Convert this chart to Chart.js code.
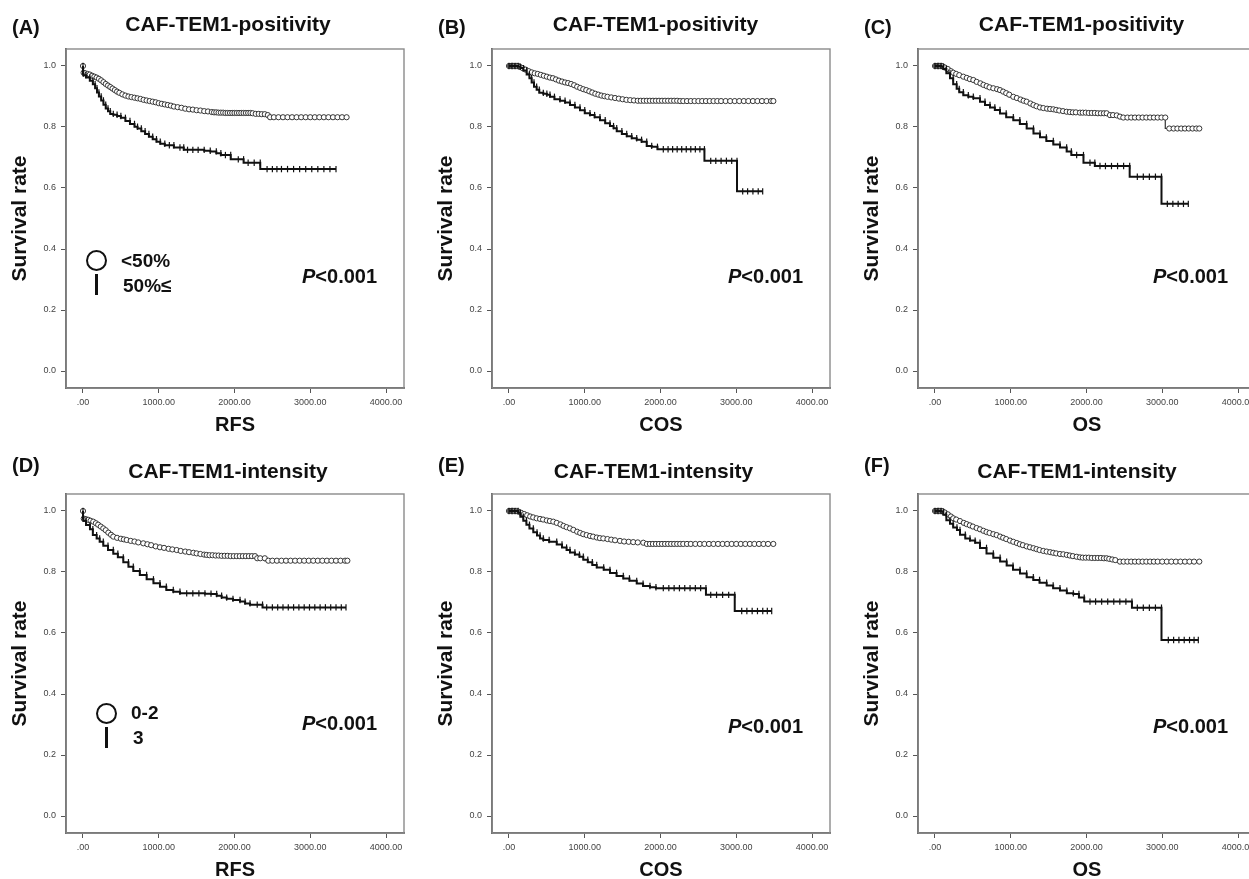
<!DOCTYPE html>
<html><head><meta charset="utf-8">
<script src="https://cdn.jsdelivr.net/npm/chart.js@4.4.1/dist/chart.umd.min.js"></script>
<style>
html,body{margin:0;padding:0;background:#fff;overflow:hidden;}
#wrap{position:relative;width:1249px;height:879px;overflow:hidden;font-family:'Liberation Sans',Arial,sans-serif;color:#111;}
.pan{position:absolute;width:426px;height:440px;}
.t{position:absolute;white-space:nowrap;font-weight:bold;}
.circ{position:absolute;box-sizing:border-box;border:2.5px solid #111;border-radius:50%;}
.bar{position:absolute;background:#111;}
</style></head><body><div id="wrap"></div>
<script>
// ---------------- DATA ----------------
const xTickValues = [0, 1000, 2000, 3000, 4000];
const xTickLabels = ['.00', '1000.00', '2000.00', '3000.00', '4000.00'];
const yTickValues = [0, 0.2, 0.4, 0.6, 0.8, 1.0];
const yTickLabels = ['0.0', '0.2', '0.4', '0.6', '0.8', '1.0'];

const panelLabels = ['(A)', '(B)', '(C)', '(D)', '(E)', '(F)'];
const panelTitles = ['CAF-TEM1-positivity', 'CAF-TEM1-positivity', 'CAF-TEM1-positivity',
                     'CAF-TEM1-intensity', 'CAF-TEM1-intensity', 'CAF-TEM1-intensity'];
const xAxisTitles = ['RFS', 'COS', 'OS', 'RFS', 'COS', 'OS'];
const yAxisTitle = 'Survival rate';
const pValueLabel = ['P', '<0.001'];
const legendPositivity = ['<50%', '50%≤'];
const legendIntensity = ['0-2', '3'];

// Kaplan-Meier curves: [time, survival]; repeated survival = censored case
const aUpper = [[0,1],[8,0.978],[30,0.976],[60,0.974],[90,0.972],[120,0.968],[150,0.965],[180,0.962],[210,0.958],[240,0.953],[270,0.947],[300,0.941],[330,0.936],[360,0.931],[390,0.926],[420,0.921],[450,0.916],[480,0.912],[520,0.907],[560,0.903],[600,0.9],[640,0.898],[680,0.896],[720,0.894],[760,0.892],[800,0.889],[840,0.887],[880,0.885],[920,0.883],[960,0.881],[1000,0.878],[1040,0.876],[1080,0.874],[1120,0.872],[1160,0.87],[1200,0.867],[1250,0.865],[1300,0.863],[1350,0.86],[1400,0.858],[1450,0.857],[1500,0.855],[1550,0.854],[1600,0.852],[1650,0.851],[1700,0.849],[1730,0.848],[1760,0.848],[1790,0.847],[1820,0.847],[1850,0.847],[1880,0.846],[1910,0.846],[1940,0.846],[1970,0.846],[2000,0.846],[2030,0.846],[2060,0.846],[2090,0.846],[2120,0.846],[2150,0.846],[2180,0.846],[2210,0.846],[2240,0.845],[2280,0.843],[2320,0.843],[2360,0.842],[2400,0.842],[2440,0.839],[2470,0.832],[2520,0.832],[2580,0.832],[2640,0.832],[2700,0.832],[2760,0.832],[2820,0.832],[2880,0.832],[2940,0.832],[3000,0.832],[3060,0.832],[3120,0.832],[3180,0.832],[3240,0.832],[3300,0.832],[3360,0.832],[3420,0.832],[3480,0.832]];
const aLower = [[0,1],[5,0.975],[40,0.97],[90,0.962],[130,0.952],[160,0.94],[185,0.927],[210,0.913],[240,0.9],[270,0.887],[300,0.873],[330,0.861],[360,0.852],[400,0.843],[450,0.84],[500,0.836],[560,0.83],[620,0.82],[680,0.81],[720,0.801],[770,0.795],[820,0.786],[870,0.777],[920,0.768],[970,0.76],[1020,0.752],[1080,0.745],[1140,0.74],[1200,0.74],[1280,0.733],[1330,0.733],[1380,0.725],[1450,0.725],[1520,0.725],[1600,0.725],[1680,0.722],[1760,0.72],[1820,0.714],[1880,0.708],[1950,0.708],[2050,0.694],[2120,0.694],[2180,0.683],[2260,0.683],[2340,0.683],[2430,0.662],[2500,0.662],[2560,0.662],[2620,0.662],[2700,0.662],[2780,0.662],[2860,0.662],[2940,0.662],[3020,0.662],[3100,0.662],[3180,0.662],[3260,0.662],[3340,0.662]];

const bUpper = [[0,1],[15,1],[30,1],[45,1],[60,1],[80,1],[100,1],[120,1],[145,0.997],[180,0.993],[220,0.988],[260,0.983],[300,0.979],[340,0.976],[380,0.974],[420,0.971],[460,0.968],[500,0.965],[540,0.962],[580,0.96],[620,0.956],[660,0.952],[700,0.949],[740,0.946],[780,0.944],[820,0.941],[860,0.937],[900,0.932],[940,0.928],[980,0.924],[1020,0.921],[1060,0.917],[1100,0.913],[1140,0.909],[1180,0.906],[1220,0.903],[1260,0.901],[1300,0.899],[1350,0.897],[1400,0.895],[1450,0.893],[1500,0.891],[1550,0.889],[1600,0.888],[1650,0.887],[1700,0.886],[1740,0.886],[1780,0.886],[1820,0.886],[1860,0.886],[1900,0.886],[1940,0.886],[1980,0.886],[2020,0.886],[2060,0.886],[2100,0.886],[2140,0.886],[2180,0.886],[2220,0.886],[2260,0.885],[2300,0.885],[2350,0.885],[2400,0.885],[2450,0.885],[2500,0.885],[2550,0.885],[2600,0.885],[2650,0.885],[2700,0.885],[2750,0.885],[2800,0.885],[2860,0.885],[2920,0.885],[2980,0.885],[3040,0.885],[3100,0.885],[3160,0.885],[3220,0.885],[3280,0.885],[3340,0.885],[3400,0.885],[3460,0.885],[3490,0.885]];
const bLower = [[0,1],[40,1],[80,1],[120,1],[150,0.998],[190,0.993],[233,0.985],[270,0.972],[299,0.96],[330,0.946],[365,0.932],[400,0.922],[453,0.912],[500,0.909],[541,0.906],[600,0.899],[673,0.891],[740,0.886],[805,0.88],[870,0.872],[937,0.864],[1000,0.855],[1069,0.845],[1130,0.839],[1201,0.832],[1270,0.822],[1333,0.812],[1380,0.803],[1422,0.796],[1490,0.786],[1554,0.777],[1620,0.77],[1686,0.763],[1750,0.758],[1818,0.752],[1884,0.738],[1960,0.735],[2037,0.727],[2100,0.727],[2160,0.727],[2220,0.727],[2280,0.727],[2340,0.727],[2400,0.727],[2460,0.727],[2520,0.727],[2580,0.727],[2663,0.689],[2730,0.689],[2800,0.689],[2870,0.689],[2940,0.689],[3010,0.689],[3085,0.589],[3150,0.589],[3220,0.589],[3290,0.589],[3349,0.589]];

const cUpper = [[0,1],[15,1],[30,1],[45,1],[60,1],[80,1],[100,0.999],[130,0.995],[170,0.99],[210,0.983],[242,0.978],[280,0.974],[320,0.97],[374,0.965],[420,0.961],[460,0.957],[506,0.954],[550,0.948],[600,0.943],[640,0.938],[682,0.934],[720,0.93],[770,0.927],[820,0.924],[858,0.921],[900,0.916],[940,0.911],[980,0.906],[1034,0.899],[1080,0.895],[1130,0.89],[1170,0.886],[1210,0.883],[1260,0.877],[1300,0.872],[1340,0.868],[1386,0.864],[1430,0.862],[1480,0.86],[1520,0.859],[1562,0.858],[1600,0.856],[1640,0.854],[1690,0.852],[1738,0.85],[1780,0.849],[1820,0.848],[1860,0.848],[1914,0.847],[1950,0.847],[1990,0.847],[2030,0.846],[2070,0.846],[2110,0.846],[2150,0.845],[2190,0.845],[2230,0.845],[2266,0.845],[2310,0.839],[2350,0.839],[2400,0.838],[2442,0.834],[2486,0.831],[2540,0.831],[2590,0.831],[2640,0.831],[2690,0.831],[2740,0.831],[2790,0.831],[2840,0.831],[2890,0.831],[2940,0.831],[2990,0.831],[3040,0.831],[3093,0.795],[3150,0.795],[3200,0.795],[3250,0.795],[3300,0.795],[3350,0.795],[3400,0.795],[3450,0.795],[3489,0.795]];
const cLower = [[0,1],[40,1],[80,1],[110,0.998],[150,0.99],[198,0.976],[240,0.96],[286,0.94],[320,0.925],[374,0.914],[440,0.904],[506,0.899],[594,0.894],[660,0.883],[726,0.872],[790,0.864],[858,0.856],[940,0.844],[1034,0.832],[1120,0.822],[1210,0.81],[1300,0.795],[1386,0.779],[1470,0.766],[1562,0.754],[1650,0.743],[1738,0.733],[1800,0.72],[1870,0.708],[1960,0.708],[2046,0.683],[2110,0.683],[2178,0.672],[2250,0.672],[2330,0.672],[2410,0.672],[2490,0.672],[2570,0.672],[2671,0.637],[2750,0.637],[2830,0.637],[2910,0.637],[2990,0.637],[3067,0.548],[3140,0.548],[3210,0.548],[3280,0.548],[3344,0.548]];

const dUpper = [[0,1],[10,0.975],[40,0.973],[70,0.971],[100,0.968],[136,0.965],[170,0.96],[200,0.955],[235,0.949],[268,0.943],[300,0.937],[335,0.929],[370,0.922],[400,0.916],[450,0.912],[500,0.909],[540,0.907],[577,0.905],[630,0.902],[680,0.9],[730,0.897],[796,0.894],[850,0.891],[900,0.888],[960,0.884],[1016,0.881],[1070,0.879],[1130,0.876],[1180,0.874],[1237,0.872],[1290,0.869],[1350,0.867],[1400,0.865],[1457,0.863],[1500,0.861],[1550,0.859],[1600,0.857],[1633,0.856],[1670,0.855],[1710,0.855],[1750,0.854],[1790,0.854],[1830,0.853],[1870,0.853],[1910,0.853],[1950,0.852],[1990,0.852],[2030,0.852],[2070,0.852],[2110,0.852],[2150,0.852],[2190,0.852],[2230,0.852],[2271,0.852],[2300,0.845],[2340,0.845],[2400,0.845],[2447,0.837],[2500,0.837],[2560,0.837],[2620,0.837],[2680,0.837],[2740,0.837],[2800,0.837],[2860,0.837],[2920,0.837],[2980,0.837],[3040,0.837],[3100,0.837],[3160,0.837],[3220,0.837],[3280,0.837],[3340,0.837],[3400,0.837],[3460,0.837],[3490,0.837]];
const dLower = [[0,1],[5,0.975],[40,0.968],[92,0.954],[130,0.94],[180,0.921],[220,0.91],[268,0.899],[330,0.886],[400,0.872],[460,0.86],[532,0.848],[600,0.832],[664,0.817],[750,0.803],[840,0.79],[930,0.776],[1016,0.763],[1100,0.752],[1192,0.741],[1280,0.735],[1369,0.73],[1450,0.73],[1530,0.73],[1610,0.73],[1690,0.729],[1765,0.728],[1830,0.722],[1897,0.716],[1980,0.712],[2073,0.708],[2140,0.703],[2205,0.697],[2300,0.693],[2370,0.693],[2425,0.684],[2500,0.684],[2570,0.684],[2640,0.684],[2710,0.684],[2780,0.684],[2850,0.684],[2920,0.684],[2990,0.684],[3060,0.684],[3130,0.684],[3200,0.684],[3270,0.684],[3340,0.684],[3410,0.684],[3472,0.684]];

const eUpper = [[0,1],[15,1],[30,1],[45,1],[60,1],[80,1],[100,1],[123,0.998],[160,0.994],[200,0.99],[240,0.986],[280,0.982],[320,0.979],[365,0.976],[410,0.974],[450,0.972],[500,0.969],[540,0.967],[585,0.965],[630,0.961],[680,0.956],[720,0.951],[760,0.947],[805,0.943],[850,0.938],[900,0.932],[940,0.928],[980,0.924],[1025,0.921],[1070,0.918],[1110,0.916],[1160,0.913],[1200,0.911],[1245,0.91],[1300,0.908],[1350,0.906],[1400,0.904],[1465,0.902],[1520,0.9],[1580,0.899],[1640,0.898],[1700,0.897],[1773,0.896],[1820,0.892],[1861,0.892],[1900,0.892],[1940,0.892],[1980,0.892],[2020,0.892],[2060,0.892],[2100,0.892],[2140,0.892],[2180,0.892],[2220,0.892],[2260,0.892],[2300,0.892],[2350,0.892],[2400,0.892],[2460,0.892],[2520,0.892],[2580,0.892],[2640,0.892],[2700,0.892],[2760,0.892],[2820,0.892],[2880,0.892],[2940,0.892],[3000,0.892],[3060,0.892],[3120,0.892],[3180,0.892],[3240,0.892],[3300,0.892],[3360,0.892],[3420,0.892],[3489,0.892]];
const eLower = [[0,1],[40,1],[80,1],[120,1],[150,0.994],[189,0.981],[230,0.968],[270,0.955],[321,0.943],[370,0.93],[410,0.92],[453,0.91],[530,0.905],[630,0.899],[700,0.89],[760,0.88],[805,0.872],[870,0.864],[930,0.857],[981,0.85],[1040,0.84],[1100,0.832],[1158,0.823],[1250,0.815],[1333,0.807],[1420,0.797],[1509,0.787],[1590,0.779],[1686,0.771],[1770,0.762],[1861,0.754],[1940,0.75],[2037,0.747],[2110,0.747],[2180,0.747],[2250,0.747],[2320,0.747],[2390,0.747],[2460,0.747],[2530,0.747],[2600,0.747],[2663,0.725],[2740,0.725],[2820,0.725],[2900,0.725],[2980,0.725],[3072,0.672],[3140,0.672],[3210,0.672],[3280,0.672],[3350,0.672],[3410,0.672],[3468,0.672]];

const fUpper = [[0,1],[15,1],[30,1],[45,1],[60,1],[80,1],[100,0.999],[130,0.995],[170,0.989],[210,0.982],[242,0.976],[280,0.972],[330,0.967],[380,0.961],[418,0.957],[460,0.953],[500,0.949],[550,0.944],[594,0.94],[640,0.935],[680,0.931],[720,0.928],[770,0.924],[814,0.921],[860,0.916],[900,0.912],[940,0.908],[990,0.903],[1034,0.899],[1080,0.895],[1120,0.891],[1160,0.888],[1210,0.884],[1254,0.881],[1300,0.878],[1340,0.875],[1380,0.872],[1430,0.869],[1474,0.867],[1520,0.865],[1560,0.863],[1600,0.861],[1650,0.859],[1694,0.858],[1740,0.856],[1780,0.854],[1820,0.852],[1870,0.85],[1914,0.848],[1950,0.847],[1990,0.847],[2030,0.847],[2070,0.846],[2110,0.846],[2150,0.846],[2190,0.846],[2230,0.845],[2266,0.845],[2300,0.843],[2340,0.841],[2380,0.839],[2442,0.834],[2490,0.834],[2540,0.834],[2590,0.834],[2640,0.834],[2690,0.834],[2740,0.834],[2790,0.834],[2840,0.834],[2890,0.834],[2940,0.834],[3000,0.834],[3060,0.834],[3120,0.834],[3180,0.834],[3240,0.834],[3300,0.834],[3360,0.834],[3420,0.834],[3489,0.834]];
const fLower = [[0,1],[40,1],[80,1],[110,0.998],[150,0.988],[198,0.97],[240,0.958],[290,0.946],[330,0.938],[400,0.922],[462,0.91],[530,0.903],[594,0.896],[680,0.879],[770,0.861],[860,0.847],[946,0.834],[1030,0.821],[1122,0.807],[1210,0.795],[1298,0.783],[1380,0.774],[1474,0.765],[1560,0.756],[1650,0.747],[1740,0.739],[1826,0.73],[1900,0.728],[1970,0.716],[2046,0.703],[2120,0.703],[2200,0.703],[2280,0.703],[2360,0.703],[2440,0.703],[2520,0.703],[2600,0.703],[2671,0.683],[2750,0.683],[2830,0.683],[2910,0.683],[2990,0.683],[3080,0.577],[3150,0.577],[3220,0.577],[3290,0.577],[3360,0.577],[3420,0.577],[3476,0.577]];

const upperCurves = [aUpper, bUpper, cUpper, dUpper, eUpper, fUpper];
const lowerCurves = [aLower, bLower, cLower, dLower, eLower, fLower];

// ---------------- LAYOUT (positions / styles) ----------------
const X_MIN = -224.4, X_MAX = 4237.6, Y_MIN = -0.0557, Y_MAX = 1.0557;
const FONT = "'Liberation Sans', Arial, sans-serif";
const panelPos = [
  {left:0,   top:0,   lab:[12,34],  tit:[228,31],    p:[302,283], leg:{cx:96.7, cy:260, t1:[121,267], bx:95,  by:274, t2:[123,292], items:legendPositivity}},
  {left:426, top:0,   lab:[438,34], tit:[655.5,31],  p:[728,283]},
  {left:852, top:0,   lab:[864,34], tit:[1081.5,31], p:[1153,283]},
  {left:0,   top:445, lab:[12,472], tit:[228,478],   p:[302,730], leg:{cx:106.7, cy:713.3, t1:[131,719], bx:105, by:727, t2:[133,744], items:legendIntensity}},
  {left:426, top:445, lab:[438,472],tit:[653.5,478], p:[728,733]},
  {left:852, top:445, lab:[864,472],tit:[1077,478],  p:[1153,733]}
];

Chart.defaults.font.family = FONT;
const wrap = document.getElementById('wrap');

function addText(html, x, baseline, size, opts = {}) {
  const d = document.createElement('div');
  d.className = 't';
  d.style.fontSize = size + 'px';
  d.style.lineHeight = size + 'px';
  d.style.top = (baseline - 0.8465 * size) + 'px';
  if (opts.center) { d.style.left = (x - 200) + 'px'; d.style.width = '400px'; d.style.textAlign = 'center'; }
  else d.style.left = x + 'px';
  d.innerHTML = html;
  wrap.appendChild(d);
}
function esc(s){return s.replace(/&/g,'&amp;').replace(/</g,'&lt;').replace(/>/g,'&gt;');}

const framePlugin = {
  id: 'frame',
  beforeDatasetsDraw(chart) {
    const {ctx, chartArea: a} = chart;
    ctx.save();
    ctx.strokeStyle = '#8a8a8a';
    ctx.lineWidth = 1.4;
    ctx.strokeRect(a.left, a.top, a.right - a.left, a.bottom - a.top);
    ctx.restore();
  }
};

function makeChart(i) {
  const pos = panelPos[i];
  const holder = document.createElement('div');
  holder.className = 'pan';
  holder.style.left = pos.left + 'px';
  holder.style.top = pos.top + 'px';
  const cv = document.createElement('canvas');
  cv.width = 426; cv.height = 440;
  holder.appendChild(cv);
  wrap.appendChild(holder);

  new Chart(cv, {
    type: 'scatter',
    data: {
      datasets: [
        { label: 'lower', data: lowerCurves[i].map(p => ({x: p[0], y: p[1]})),
          showLine: true, stepped: 'after', borderColor: '#111', borderWidth: 2,
          pointStyle: 'line', rotation: 90, pointRadius: 3.2, pointBorderWidth: 1.2,
          pointBorderColor: '#111', pointBackgroundColor: '#111' },
        { label: 'upper', data: upperCurves[i].map(p => ({x: p[0], y: p[1]})),
          showLine: true, stepped: 'after', borderColor: '#333', borderWidth: 1.2,
          pointStyle: 'circle', pointRadius: 2.6, pointBorderWidth: 0.9,
          pointBorderColor: '#222', pointBackgroundColor: '#fff' }
      ]
    },
    options: {
      responsive: false, animation: false, devicePixelRatio: 1,
      layout: {padding: {top: 49, right: 22, left: 0, bottom: 0}},
      plugins: {legend: {display: false}, title: {display: false}, tooltip: {enabled: false}},
      events: [],
      scales: {
        x: {
          type: 'linear', min: X_MIN, max: X_MAX,
          afterBuildTicks: s => { s.ticks = xTickValues.map(v => ({value: v})); },
          afterFit: s => { s.height = 52; },
          ticks: {callback: v => xTickLabels[xTickValues.indexOf(v)], font: {size: 9}, color: '#444',
                  padding: 4, maxRotation: 0, autoSkip: false},
          grid: {drawOnChartArea: false, drawTicks: true, tickLength: 5, color: '#555', lineWidth: 1},
          border: {display: true, color: '#555', width: 1.8},
          title: {display: true, text: xAxisTitles[i], font: {size: 20, weight: 'bold'}, color: '#111',
                  padding: {top: 0, bottom: 3}}
        },
        y: {
          type: 'linear', min: Y_MIN, max: Y_MAX,
          afterBuildTicks: s => { s.ticks = yTickValues.map(v => ({value: v})); },
          afterFit: s => { s.width = 66; },
          ticks: {callback: v => yTickLabels[yTickValues.indexOf(v)], font: {size: 9}, color: '#444',
                  padding: 5, autoSkip: false},
          grid: {drawOnChartArea: false, drawTicks: true, tickLength: 5, color: '#555', lineWidth: 1},
          border: {display: true, color: '#555', width: 1.8},
          title: {display: true, text: yAxisTitle, font: {size: 21, weight: 'bold'}, color: '#111',
                  padding: {top: 8, bottom: 0}}
        }
      }
    },
    plugins: [framePlugin]
  });

  // overlay texts
  addText(esc(panelLabels[i]), pos.lab[0], pos.lab[1], 20);
  addText(esc(panelTitles[i]), pos.tit[0], pos.tit[1], 21, {center: true});
  addText('<span style="font-style:italic">' + esc(pValueLabel[0]) + '</span>' + esc(pValueLabel[1]), pos.p[0], pos.p[1], 20);
  if (pos.leg) {
    const L = pos.leg;
    const c = document.createElement('div');
    c.className = 'circ';
    c.style.left = (L.cx - 10.5) + 'px'; c.style.top = (L.cy - 10.5) + 'px';
    c.style.width = '21px'; c.style.height = '21px';
    wrap.appendChild(c);
    const b = document.createElement('div');
    b.className = 'bar';
    b.style.left = L.bx + 'px'; b.style.top = L.by + 'px';
    b.style.width = '3px'; b.style.height = '21px';
    wrap.appendChild(b);
    addText(esc(L.items[0]), L.t1[0], L.t1[1], 19);
    addText(esc(L.items[1]), L.t2[0], L.t2[1], 19);
  }
}
for (let i = 0; i < 6; i++) makeChart(i);
</script>
</body></html>
